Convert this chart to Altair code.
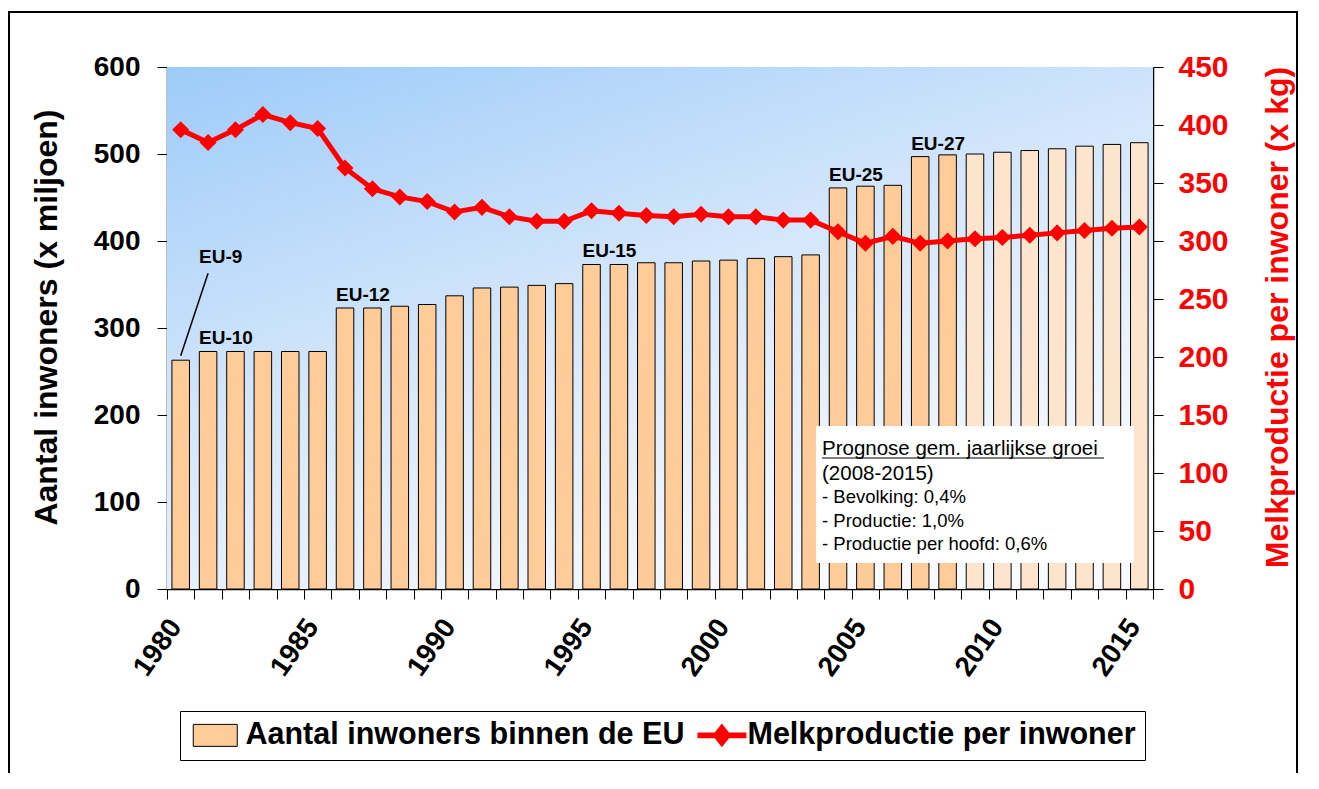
import altair as alt
import pandas as pd

# ---------------- data ----------------
jaren = list(range(1980, 2016))
inwoners = [263, 273, 273, 273, 273, 273, 323, 323, 325, 327, 337, 346, 347, 349, 351,
            373, 373, 375, 375, 377, 378, 380, 382, 384, 461, 463, 464, 497, 499, 500,
            502, 504, 506, 509, 511, 513]
melk = [396, 385, 396, 409, 402, 397, 363, 345, 338, 334, 325, 329, 321, 317, 317,
        326, 324, 322, 321, 323, 321, 321, 318, 318, 308, 298, 304, 298, 300, 302,
        303, 305, 307, 309, 311, 312]
prognose_vanaf = 2009

eu_labels = ["EU-9", "EU-10", "EU-12", "EU-15", "EU-25", "EU-27"]
eu_jaar = [1981, 1981, 1986, 1995, 2004, 2007]
eu_hoogte = [367, 273, 323, 373, 461, 497]

leader_jaar = [1981]
leader_jaar2 = [1980]
leader_y = [363]
leader_y2 = [268]

info_titel = ["Prognose gem. jaarlijkse groei", "(2008-2015)"]
info_regels = ["- Bevolking: 0,4%", "- Productie: 1,0%", "- Productie per hoofd: 0,6%"]

lb = "Aantal inwoners binnen de EU"
ll = "Melkproductie per inwoner"
lp = "Prognose"

df = pd.DataFrame({"jaar": jaren, "inwoners": inwoners, "melk": melk})
df_eu = pd.DataFrame({"jaar": eu_jaar, "label": eu_labels, "h": eu_hoogte})
df_leader = pd.DataFrame({"jaar": leader_jaar, "jaar2": leader_jaar2, "y": leader_y, "y2": leader_y2})
one = pd.DataFrame({"a": [0]})

W, H = 986, 522
F = "Liberation Sans, Arial, sans-serif"
RED = "#FF0000"

xaxis = alt.Axis(
    labelExpr="datum.value % 5 == 0 ? datum.label : ''",
    labelAngle=305, labelAlign="right", labelBaseline="middle",
    labelFont=F, labelFontSize=28, labelFontWeight="bold", labelColor="black",
    labelPadding=23, labelOffset=-5, labelOverlap=False, labelBound=False,
    tickBand="extent", tickSize=10, tickColor="black", tickWidth=1,
    domainColor="black", domainWidth=1.5, grid=False, title=None,
)
xscale = alt.Scale(paddingInner=0, paddingOuter=0)


def X(field="jaar"):
    return alt.X(f"{field}:O", scale=xscale, axis=xaxis, title=None)


# background gradient
grad = alt.LinearGradient(
    gradient="linear",
    stops=[alt.GradientStop(color="#9DCBF9", offset=0),
           alt.GradientStop(color="#D3E6FB", offset=0.5),
           alt.GradientStop(color="#F7FAFF", offset=1)],
    x1=0, y1=0, x2=0.6, y2=1,
)
bg = alt.Chart(one).mark_rect(color=grad).encode(
    x=alt.value(0), x2=alt.value(W), y=alt.value(0), y2=alt.value(H)
)

sq = "M-1,-1H3V1H-1Z"
lp_path = ("M-0.8,-0.27L0.77,-0.27L1.42,-1.09L2.07,-0.27L3.65,-0.27L3.65,0.27"
           "L2.07,0.27L1.42,1.09L0.77,0.27L-0.8,0.27Z")

legend = alt.Legend(
    title=None, orient="none", legendX=13, legendY=644, direction="horizontal",
    values=[lb, ll], strokeColor="black", padding=9,
    labelFont=F, labelFontSize=30.5, labelFontWeight="bold", labelColor="black",
    labelLimit=0, symbolSize=484, labelOffset=26, columnPadding=6,
    symbolType={"expr": f"datum.value === '{lb}' ? '{sq}' : '{lp_path}'"},
    symbolStrokeColor={"expr": f"datum.value === '{lb}' ? '#000000' : 'transparent'"},
    symbolStrokeWidth=1,
)

yl = alt.Y("inwoners:Q", scale=alt.Scale(domain=[0, 600]),
           axis=alt.Axis(orient="left", values=[0, 100, 200, 300, 400, 500, 600],
                         title="Aantal inwoners (x miljoen)",
                         titleX=-121, titleY=250, titleAngle=270, titleAlign="center",
                         titleBaseline="middle", titleFont=F, titleFontSize=32,
                         titleFontWeight="bold", titleColor="black",
                         labelFont=F, labelFontSize=28, labelFontWeight="bold",
                         labelColor="black", labelPadding=17, tickSize=10,
                         tickColor="black", domainColor="black", domainWidth=1.5,
                         grid=False))

bars = alt.Chart(df).transform_calculate(
    reeks=f"datum.jaar >= {prognose_vanaf} ? '{lp}' : '{lb}'"
).mark_bar(width=alt.RelativeBandSize(0.64)).encode(
    x=X(),
    y=yl,
    fill=alt.Fill("reeks:N", scale=alt.Scale(domain=[lb, lp, ll],
                                              range=["#FFCC99", "#FDE4CC", RED]),
                  legend=legend),
)
outline = alt.Chart(df).mark_bar(width=alt.RelativeBandSize(0.64), fillOpacity=0,
                                 stroke="black", strokeWidth=1).encode(
    x=X(), y=alt.Y("inwoners:Q")
)

eu_text = alt.Chart(df_eu).mark_text(
    align="left", baseline="bottom", dx=-9, dy=-3, font=F, fontSize=19,
    fontWeight="bold", color="black"
).encode(x=X(), y=alt.Y("h:Q"), text="label:N")

leader = alt.Chart(df_leader).mark_rule(color="black", strokeWidth=1.5).encode(
    x=X(), x2="jaar2:O", y=alt.Y("y:Q"), y2="y2:Q"
)

left = alt.layer(bars, outline, eu_text, leader)

yr = alt.Y("melk:Q", scale=alt.Scale(domain=[0, 450]),
           axis=alt.Axis(orient="right", values=list(range(0, 451, 50)),
                         title="Melkproductie per inwoner (x kg)",
                         titleX=124, titleY=250, titleAngle=270, titleAlign="center",
                         titleBaseline="middle", titleFont=F, titleFontSize=32,
                         titleFontWeight="bold", titleColor=RED,
                         labelFont=F, labelFontSize=30, labelFontWeight="bold",
                         labelColor=RED, labelPadding=15, tickSize=10,
                         tickColor="black", domainColor="black", domainWidth=1.5,
                         grid=False))
line = alt.Chart(df).mark_line(color=RED, strokeWidth=5).encode(x=X(), y=yr)
pts = alt.Chart(df).mark_point(shape="diamond", filled=True, size=290, color=RED,
                               opacity=1).encode(x=X(), y=alt.Y("melk:Q"))
right = alt.layer(line, pts)

# info box
box = alt.Chart(one).mark_rect(color="white").encode(
    x=alt.value(649), x2=alt.value(967), y=alt.value(359), y2=alt.value(496)
)
t1 = alt.Chart(one).mark_text(
    align="left", baseline="alphabetic", font=F, fontSize=20.5, lineHeight=25,
    color="black"
).encode(x=alt.value(655), y=alt.value(388), text=alt.value(info_titel))
t2 = alt.Chart(one).mark_text(
    align="left", baseline="alphabetic", font=F, fontSize=18.5, lineHeight=23.5,
    color="black"
).encode(x=alt.value(655), y=alt.value(436), text=alt.value(info_regels))
underline = alt.Chart(one).mark_rule(color="black", strokeWidth=1).encode(
    x=alt.value(655), x2=alt.value(937), y=alt.value(391)
)

border = alt.Chart(one).mark_rect(fillOpacity=0, stroke="black", strokeWidth=2).encode(
    x=alt.value(-158), x2=alt.value(W + 144), y=alt.value(-55), y2=alt.value(H + 300)
)

chart = alt.layer(bg, left, right, box, t1, t2, underline, border).resolve_scale(
    y="independent"
).properties(
    width=W, height=H,
    autosize=alt.AutoSizeParams(type="none"),
    padding={"left": 159, "top": 59, "right": 145, "bottom": 184},
    background="white",
).configure_view(stroke=None)

chart.save("out.html", embed_options={"renderer": "svg", "actions": False})
